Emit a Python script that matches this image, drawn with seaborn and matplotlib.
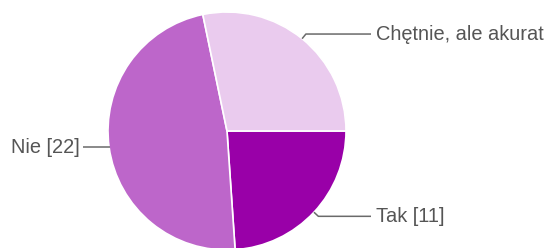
import numpy as np
import matplotlib
matplotlib.use("Agg")
import matplotlib.pyplot as plt
import seaborn as sns

labels = ["Tak [11]", "Nie [22]", "Chętnie, ale akurat nie mam czasu [13]"]
values = [11, 22, 13]
colors = ["#9900a8", "#bd66ca", "#eacbee"]

sns.set_theme(style="white")
plt.rcParams["font.family"] = ["Liberation Sans", "DejaVu Sans"]

W, H = 544, 248
fig = plt.figure(figsize=(W / 100, H / 100), dpi=100)
ax = fig.add_axes([0, 0, 1, 1])
ax.set_xlim(0, W)
ax.set_ylim(0, H)
ax.axis("off")

cx, cy, r = 227, H - 131, 119
wedges, _ = ax.pie(values, colors=colors, startangle=0, counterclock=False,
                   center=(cx, cy), radius=r,
                   wedgeprops=dict(edgecolor="white", linewidth=1.2))
ax.set_xlim(0, W)
ax.set_ylim(0, H)
ax.set_aspect("equal")

for w, lab in zip(wedges, labels):
    th = np.deg2rad((w.theta1 + w.theta2) / 2)
    x0, y0 = cx + r * np.cos(th), cy + r * np.sin(th)
    x1, y1 = cx + (r + 6) * np.cos(th), cy + (r + 6) * np.sin(th)
    if np.cos(th) >= 0:
        xe, xt, ha = 371, 375.5, "left"
    else:
        x0, y0 = cx + (r - 1) * np.cos(th), cy + (r - 1) * np.sin(th)
        x1, y1 = x0, y0
        xe, xt, ha = 83, 80, "right"
    ax.plot([x0, x1, xe], [y0, y1, y1], color="#6a6a6a", lw=1.1,
            solid_capstyle="butt")
    ax.text(xt, y1, lab, ha=ha, va="center", fontsize=14.4, color="#555555")

fig.savefig("out.png", dpi=100)
